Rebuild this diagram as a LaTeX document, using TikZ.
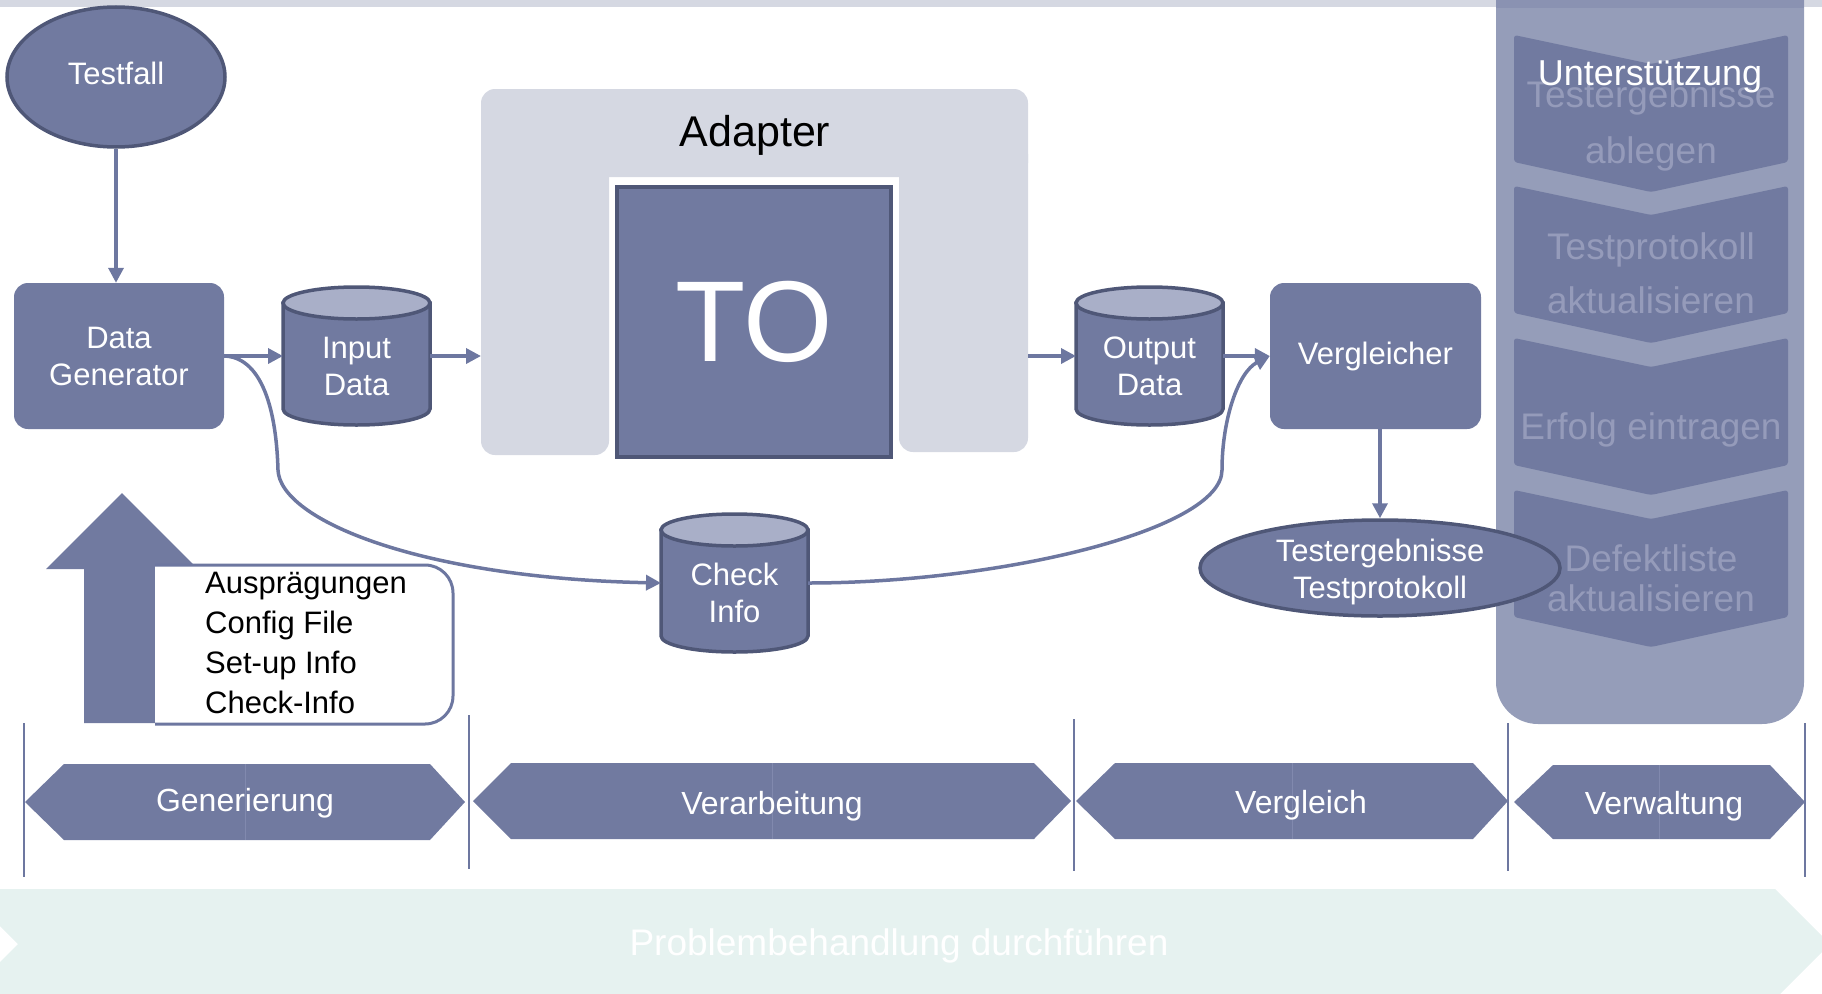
\documentclass[tikz,border=0pt]{standalone}
\usepackage{fontspec}
\setmainfont{Liberation Sans}
\usetikzlibrary{shapes.geometric,arrows.meta}

\definecolor{slate}{HTML}{717AA0}
\definecolor{slatedark}{HTML}{4F5777}
\definecolor{slatelight}{HTML}{A9AFC8}
\definecolor{pale}{HTML}{D5D8E2}
\definecolor{column}{HTML}{959DB9}
\definecolor{columntop}{HTML}{8A92B2}
\definecolor{faded}{HTML}{959BBA}
\definecolor{mint}{HTML}{E6F2F0}
\definecolor{wire}{HTML}{6D77A0}
\definecolor{seam}{HTML}{8189AE}

\tikzset{
  txt/.style={font=\fontsize{31}{37}\selectfont, text=white, align=center, inner sep=0pt},
  blockbox/.style={rectangle, fill=slate, rounded corners=14pt, inner sep=0pt},
  oval/.style={ellipse, fill=slate, draw=slatedark, line width=3.5pt, inner sep=0pt},
  cylbody/.style={fill=slate, draw=slatedark, line width=3.5pt},
  cyltop/.style={fill=slatelight, draw=slatedark, line width=3.5pt},
  hit/.style={rectangle, inner sep=0pt, outer sep=0pt},
  conn/.style={draw=wire, line width=3.5pt, -{Triangle[length=15pt,width=15pt]}},
  phase/.style={fill=slate},
  phasetxt/.style={font=\fontsize{32}{38}\selectfont, text=white, anchor=base, inner sep=0pt},
  chev/.style={fill=slate, rounded corners=3pt},
  chevtxt/.style={font=\fontsize{37}{44}\selectfont, text=faded, anchor=base, inner sep=0pt},
  divider/.style={draw=wire, line width=1.5pt},
  seamline/.style={draw=seam, line width=1pt},
  listtxt/.style={font=\fontsize{31}{37}\selectfont, anchor=base west, inner sep=0pt},
}

% database cylinder: name, centre x, centre y, half width, half height, label
\newcommand{\dbcyl}[6]{%
  \filldraw[cylbody] ({#2-#4},{#3-#5+16}) -- ({#2-#4},{#3+#5-16})
    .. controls ({#2-#4},{#3+#5-7.16}) and ({#2-0.5523*#4},{#3+#5}) .. ({#2},{#3+#5})
    .. controls ({#2+0.5523*#4},{#3+#5}) and ({#2+#4},{#3+#5-7.16}) .. ({#2+#4},{#3+#5-16})
    -- ({#2+#4},{#3-#5+16}) -- cycle;
  \filldraw[cyltop] (#2,{#3-#5+16}) ellipse [x radius=#4, y radius=16];
  \node[hit, minimum width={2*#4}, minimum height={2*#5}] (#1) at (#2,#3) {};
  \node[txt] (#1-text) at (#2,{#3+10}) {#6};
}

% downward chevron in the side column, given its top edge
\newcommand{\chevblock}[1]{%
  \fill[chev] (1514,{#1}) -- (1651,{#1+29}) -- (1788,{#1}) -- (1788,{#1+127})
    -- (1651,{#1+157}) -- (1514,{#1+127}) -- cycle;
}

\begin{document}
\begin{tikzpicture}[x=1pt,y=-1pt]
\useasboundingbox (0,0) rectangle (1822,993);
\clip (0,0) rectangle (1822,993);

% top strip
\fill[pale] (0,0) rectangle (1822,7);

% support column
\fill[column, rounded corners=42pt] (1496,-60) rectangle (1804,724);
\fill[columntop] (1496,0) rectangle (1804,8);
\chevblock{35}
\chevblock{186}
\chevblock{338}
\chevblock{490}
\node[chevtxt] (c1a) at (1651,107) {Testergebnisse};
\node[chevtxt] (c1b) at (1651,163) {ablegen};
\node[chevtxt] (c2a) at (1651,259) {Testprotokoll};
\node[chevtxt] (c2b) at (1651,313) {aktualisieren};
\node[chevtxt] (c3)  at (1651,439) {Erfolg eintragen};
\node[chevtxt] (c4a) at (1651,571) {Defektliste};
\node[chevtxt] (c4b) at (1651,611) {aktualisieren};
\node[font=\fontsize{36}{43}\selectfont, text=white, anchor=base, inner sep=0pt] (support) at (1650,85) {Unterstützung};

% adapter frame around the test object
\fill[pale, rounded corners=14pt] (481,89) rectangle (1028,177);
\fill[pale, rounded corners=14pt] (481,140) rectangle (609,455);
\fill[pale, rounded corners=14pt] (899,140) rectangle (1028,452);
\node[hit, minimum width=547pt, minimum height=366pt] (adapter) at (754.5,272) {};
\node[font=\fontsize{43}{50}\selectfont, inner sep=0pt] (adapter-text) at (755,135) {Adapter};
\node[rectangle, fill=slate, draw=slatedark, line width=3.5pt, minimum width=274pt, minimum height=270pt,
      inner sep=0pt, font=\fontsize{115}{120}\selectfont, text=white] (to) at (754,322) {TO};

% flow nodes
\node[oval, minimum width=218pt, minimum height=140pt] (testfall) at (116,77) {};
\node[txt] (testfall-text) at (116,73) {Testfall};
\node[blockbox, minimum width=210pt, minimum height=146pt, txt] (datagen) at (119,356) {Data\\Generator};
\dbcyl{input}{356.5}{356}{73.5}{69}{Input\\Data}
\dbcyl{output}{1149.5}{356}{73.5}{69}{Output\\Data}
\dbcyl{check}{734.5}{583}{73.5}{69}{Check\\Info}
\node[blockbox, minimum width=211pt, minimum height=146pt, txt] (vergl) at (1375.5,356) {Vergleicher};
\node[oval, minimum width=360pt, minimum height=96pt] (result) at (1380,568) {};
\node[txt] (result-text) at (1380,572) {Testergebnisse\\Testprotokoll};

% connectors
\draw[conn] (testfall.south) -- (testfall.south |- datagen.north);
\draw[conn] (datagen.east) -- (input.west);
\draw[conn] (input.east) -- (input.east -| adapter.west);
\draw[conn] (adapter.east |- output.west) -- (output.west);
\draw[conn] (output.east) -- (vergl.west);
\draw[conn] (result.north |- vergl.south) -- (result.north);
\coordinate (bendL) at (278,470);
\coordinate (bendR) at (1222,470);
\draw[conn] (datagen.east) .. controls (258,357) and (276,400) .. (bendL)
  .. controls (280,520) and (420,578) .. (check.west);
\draw[conn] (check.east) .. controls (1000,583) and (1222,530) .. (bendR)
  .. controls (1222,420) and (1238,372) .. (vergl.west);

% input arrow with configuration list
\fill[slate] (84,723) -- (84,569) -- (46,569) -- (122,493) -- (198,569) -- (160,569) -- (160,723) -- cycle;
\filldraw[fill=white, draw=wire, line width=3pt, rounded corners=28pt]
  (155,565) -- (453,565) -- (453,724) -- (155,724);
\node[listtxt] (item1) at (205,593) {Ausprägungen};
\node[listtxt] (item2) at (205,633) {Config File};
\node[listtxt] (item3) at (205,673) {Set-up Info};
\node[listtxt] (item4) at (205,713) {Check-Info};

% phase dividers
\draw[divider] (24,723) -- (24,877);
\draw[divider] (469,715) -- (469,869);
\draw[divider] (1074,719) -- (1074,871);
\draw[divider] (1508,723) -- (1508,871);
\draw[divider] (1805,723) -- (1805,877);

% phases
\fill[phase] (25,802) -- (64,764) -- (430,764) -- (465,802) -- (430,840) -- (64,840) -- cycle;
\fill[phase] (473,801) -- (511,763) -- (1034,763) -- (1071,801) -- (1034,839) -- (511,839) -- cycle;
\fill[phase] (1076,801) -- (1115,763) -- (1473,763) -- (1508,801) -- (1473,839) -- (1115,839) -- cycle;
\fill[phase] (1514,802) -- (1553,765) -- (1770,765) -- (1805,802) -- (1770,839) -- (1553,839) -- cycle;
\draw[seamline] (245,764) -- (245,840);
\draw[seamline] (772,763) -- (772,839);
\draw[seamline] (1292,763) -- (1292,839);
\draw[seamline] (1659.5,765) -- (1659.5,839);
\node[phasetxt] (gen) at (245,811) {Generierung};
\node[phasetxt] (verarb) at (772,814) {Verarbeitung};
\node[phasetxt] (vergleich) at (1301,813) {Vergleich};
\node[phasetxt] (verw) at (1664,814) {Verwaltung};

% bottom banner
\fill[mint] (-37,889) -- (1775,889) -- (1830,944) -- (1775,999) -- (-37,999) -- (18,944) -- cycle;
\node[font=\fontsize{37}{44}\selectfont, text=white, anchor=base, inner sep=0pt] (trouble) at (899,955) {Problembehandlung durchführen};
\end{tikzpicture}
\end{document}
